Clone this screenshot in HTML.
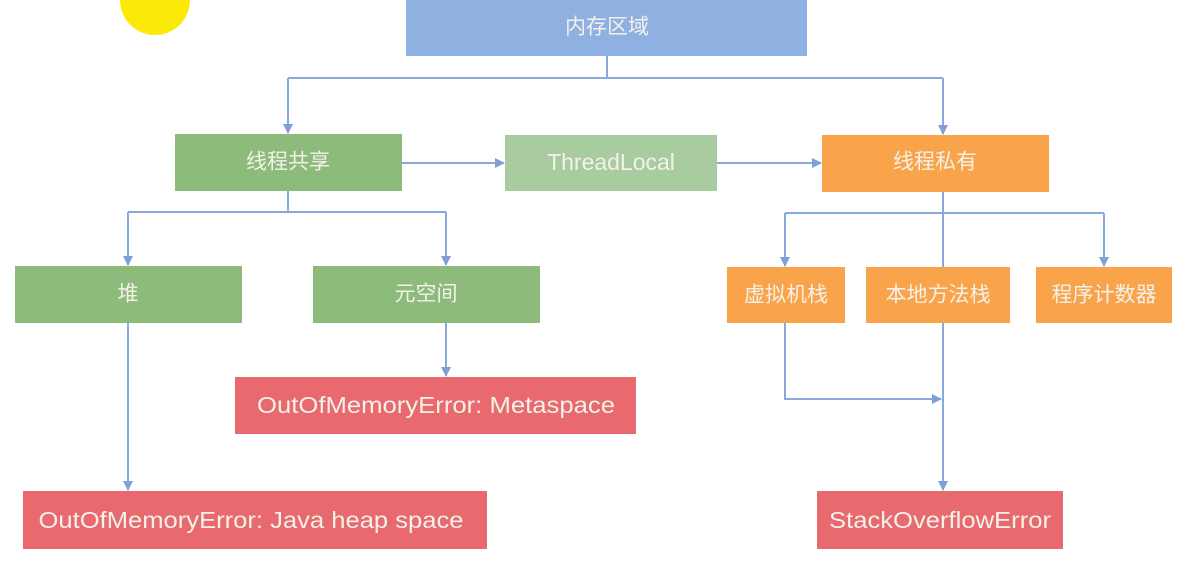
<!DOCTYPE html>
<html><head><meta charset="utf-8"><style>
html,body{margin:0;padding:0;background:#fff;}
svg{display:block;}
text{font-family:"Liberation Sans","Noto Sans CJK SC",sans-serif;font-size:21px;fill:#f4f1ea;text-anchor:middle;dominant-baseline:central;}
.l{font-size:23px;}
</style></head><body>
<svg width="1199" height="584" viewBox="0 0 1199 584" xmlns="http://www.w3.org/2000/svg">
<defs><marker id="a" markerWidth="10" markerHeight="10" refX="9" refY="5" orient="auto" markerUnits="userSpaceOnUse"><path d="M0,0 L10,5 L0,10 z" fill="#7f9fd6"/></marker></defs>
<circle cx="155" cy="0" r="35" fill="#fbe90a"/>
<g stroke="#89a8dc" stroke-width="2" fill="none">
<path d="M607,56 V78 M288,78 H943"/>
<path d="M288,78 V133" marker-end="url(#a)"/>
<path d="M943,78 V134" marker-end="url(#a)"/>
<path d="M402,163 H504" marker-end="url(#a)"/>
<path d="M717,163 H821" marker-end="url(#a)"/>
<path d="M288,191 V212 M128,212 H446"/>
<path d="M128,212 V265" marker-end="url(#a)"/>
<path d="M446,212 V265" marker-end="url(#a)"/>
<path d="M785,213 H1104"/>
<path d="M785,213 V266" marker-end="url(#a)"/>
<path d="M1104,213 V266" marker-end="url(#a)"/>
<path d="M943,192 V490" marker-end="url(#a)"/>
<path d="M785,323 V399 H941" marker-end="url(#a)"/>
<path d="M446,323 V376" marker-end="url(#a)"/>
<path d="M128,323 V490" marker-end="url(#a)"/>
</g>
<rect x="406" y="0" width="401" height="56" fill="#8fb1e2"/>
<text x="607" y="27">内存区域</text>
<rect x="175" y="134" width="227" height="57" fill="#8dbb7c"/>
<text x="288" y="162">线程共享</text>
<rect x="505" y="135" width="212" height="56" fill="#a8cba0"/>
<text x="611" y="162" class="l">ThreadLocal</text>
<rect x="822" y="135" width="227" height="57" fill="#f9a44b"/>
<text x="935" y="162">线程私有</text>
<rect x="15" y="266" width="227" height="57" fill="#8dbb7c"/>
<text x="128" y="294">堆</text>
<rect x="313" y="266" width="227" height="57" fill="#8dbb7c"/>
<text x="426" y="294">元空间</text>
<rect x="727" y="267" width="118" height="56" fill="#f9a44b"/>
<text x="786" y="295">虚拟机栈</text>
<rect x="866" y="267" width="144" height="56" fill="#f9a44b"/>
<text x="938" y="295">本地方法栈</text>
<rect x="1036" y="267" width="136" height="56" fill="#f9a44b"/>
<text x="1104" y="295">程序计数器</text>
<rect x="235" y="377" width="401" height="57" fill="#e8696e"/>
<text x="436" y="405" class="l" textLength="358" lengthAdjust="spacingAndGlyphs">OutOfMemoryError: Metaspace</text>
<rect x="23" y="491" width="464" height="58" fill="#e8696e"/>
<text x="251" y="520" class="l" textLength="425" lengthAdjust="spacingAndGlyphs">OutOfMemoryError: Java heap space</text>
<rect x="817" y="491" width="246" height="58" fill="#e8696e"/>
<text x="940" y="520" class="l" textLength="222" lengthAdjust="spacingAndGlyphs">StackOverflowError</text>
</svg>
</body></html>
